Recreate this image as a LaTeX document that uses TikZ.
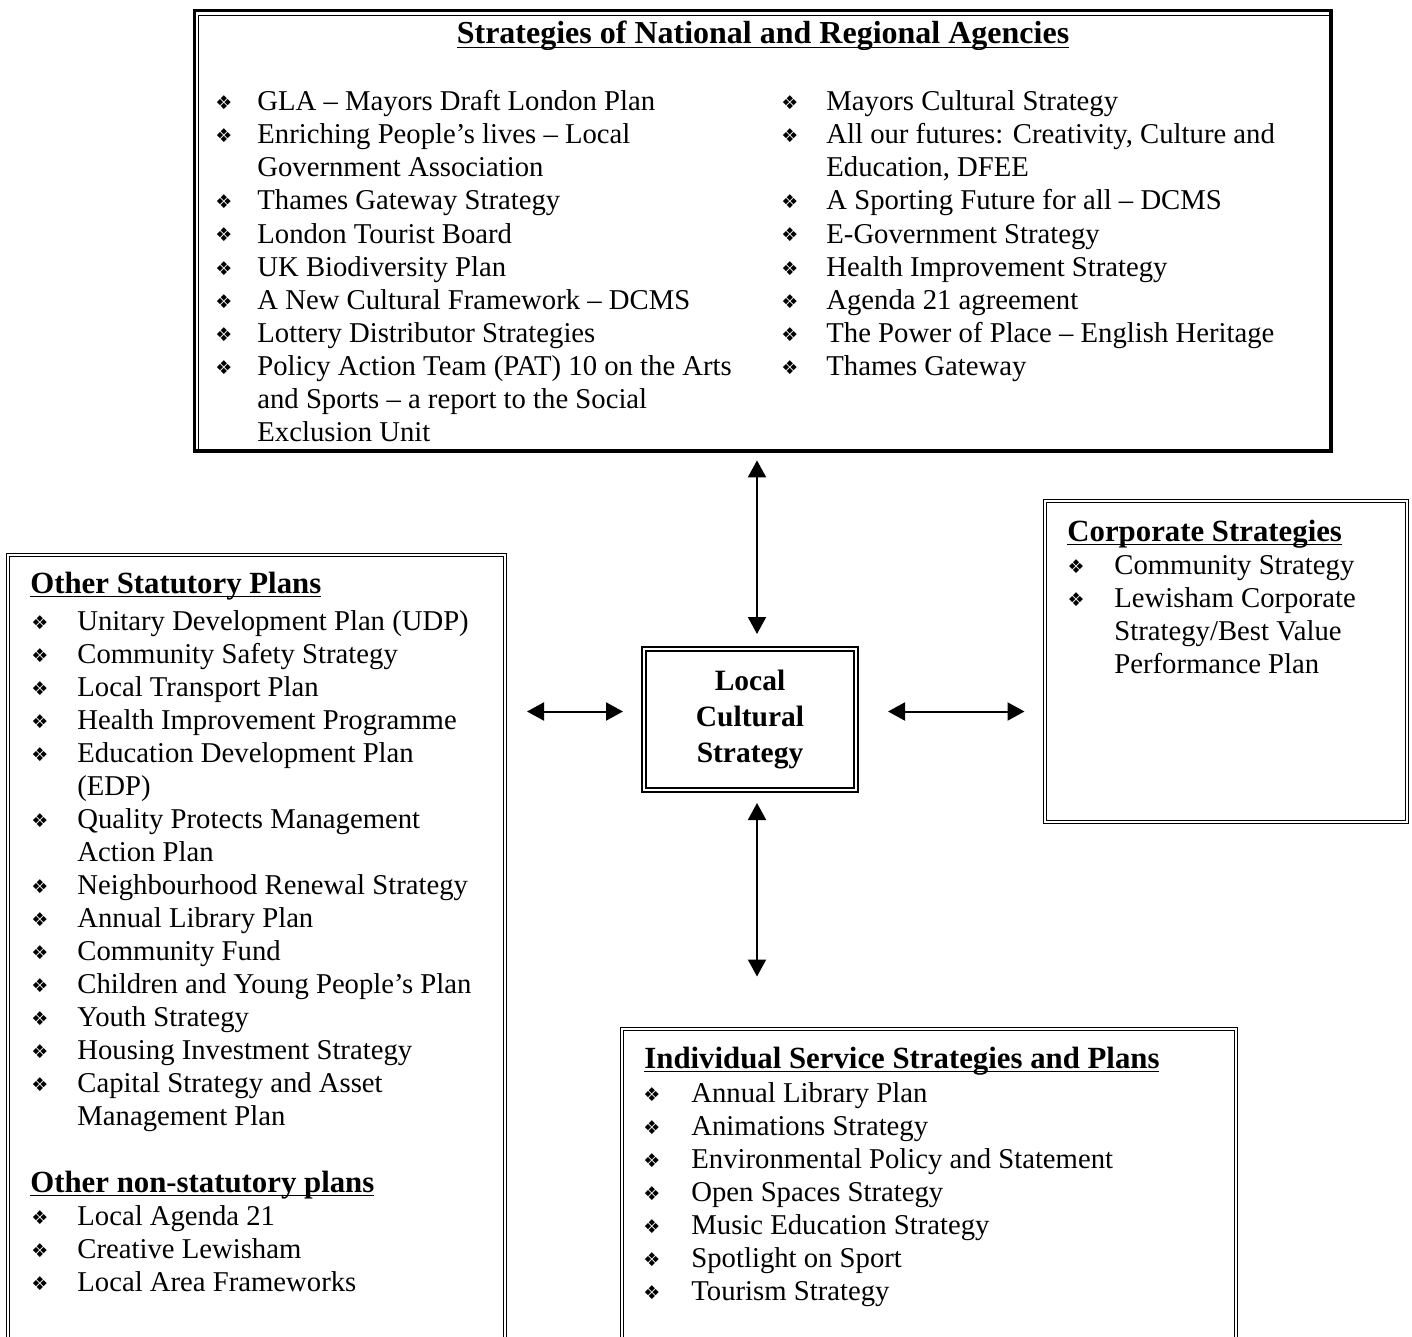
\documentclass[tikz,border=0pt]{standalone}
\usepackage{fontspec}
\setmainfont{Liberation Serif}
\newfontfamily\dejavu{DejaVu Sans}
\usetikzlibrary{fit,arrows.meta}
\newcommand\ulx[1]{\setbox0=\hbox{#1}\rlap{\rule[-2.2pt]{\wd0}{0.9pt}}\box0}
\newcommand\bitem[5]{%
  \node[bul] (#1b) at (#2,#4-1) {❖};
  \node[body] (#1) at (#3,#4) {#5};}
\newcommand\citem[4]{\node[body] (#1) at (#2,#3) {#4};}
\tikzset{
  body/.style={inner sep=0pt, anchor=base west, font=\fontsize{14.35}{16.5}\selectfont},
  bul/.style={inner sep=0pt, anchor=base, font=\dejavu\fontsize{9.5}{10}\selectfont},
  head/.style={inner sep=0pt, anchor=base west, font=\bfseries\fontsize{15.4}{18}\selectfont},
  dbox/.style={draw, double, line width=0.5pt, double distance=1pt, inner sep=0pt},
  cbox/.style={draw, double, line width=1pt, double distance=1pt, inner sep=0pt, align=center,
    font=\bfseries\fontsize{14.75}{18}\selectfont},
  arr/.style={{Triangle[length=8.5pt,width=9pt]}-{Triangle[length=8.5pt,width=9pt]}, line width=1pt}
}
\begin{document}
\begin{tikzpicture}[x=0.5pt,y=-0.5pt]
\useasboundingbox (0,0) rectangle (1412,1337);
% ---------- top box ----------
\node[inner sep=0pt, fit={(194,11) (1331,451)}] (top) {};
\draw[line width=1.5pt] (194,452.5) -- (194,11) -- (1329,11);
\draw[line width=0.75pt] (198.5,449) -- (198.5,15.5) -- (1329,15.5);
\draw[line width=2pt] (1331,9.5) -- (1331,451) -- (192.5,451);
\node[inner sep=0pt, anchor=base, font=\bfseries\fontsize{16}{18}\selectfont] (title) at (763,44)
  {\ulx{Strategies of National and Regional Agencies}};
\bitem{a1}{224}{257}{111}{GLA – Mayors Draft London Plan}
\bitem{a2}{224}{257}{144}{Enriching People’s lives – Local}
\citem{a2c}{257}{177}{Government Association}
\bitem{a3}{224}{257}{210}{Thames Gateway Strategy}
\bitem{a4}{224}{257}{243}{London Tourist Board}
\bitem{a5}{224}{257}{276}{UK Biodiversity Plan}
\bitem{a6}{224}{257}{309}{A New Cultural Framework – DCMS}
\bitem{a7}{224}{257}{342}{Lottery Distributor Strategies}
\bitem{a8}{224}{257}{375}{Policy Action Team (PAT) 10 on the Arts}
\citem{a8c}{257}{408}{and Sports – a report to the Social}
\citem{a8d}{257}{441}{Exclusion Unit}
\bitem{b1}{790}{826}{111}{Mayors Cultural Strategy}
\bitem{b2}{790}{826}{144}{All our futures: Creativity, Culture and}
\citem{b2c}{826}{177}{Education, DFEE}
\bitem{b3}{790}{826}{210}{A Sporting Future for all – DCMS}
\bitem{b4}{790}{826}{243}{E-Government Strategy}
\bitem{b5}{790}{826}{276}{Health Improvement Strategy}
\bitem{b6}{790}{826}{309}{Agenda 21 agreement}
\bitem{b7}{790}{826}{342}{The Power of Place – English Heritage}
\bitem{b8}{790}{826}{375}{Thames Gateway}
% ---------- left box ----------
\node[dbox, fit={(8.3,555) (504.5,1360)}] (left) {};
\node[head] (lh1) at (30,593) {\ulx{Other Statutory Plans}};
\bitem{c1}{40}{77}{630}{Unitary Development Plan (UDP)}
\bitem{c2}{40}{77}{663}{Community Safety Strategy}
\bitem{c3}{40}{77}{696}{Local Transport Plan}
\bitem{c4}{40}{77}{729}{Health Improvement Programme}
\bitem{c5}{40}{77}{762}{Education Development Plan}
\citem{c5c}{77}{795}{(EDP)}
\bitem{c6}{40}{77}{828}{Quality Protects Management}
\citem{c6c}{77}{861}{Action Plan}
\bitem{c7}{40}{77}{894}{Neighbourhood Renewal Strategy}
\bitem{c8}{40}{77}{927}{Annual Library Plan}
\bitem{c9}{40}{77}{960}{Community Fund}
\bitem{c10}{40}{77}{993}{Children and Young People’s Plan}
\bitem{c11}{40}{77}{1026}{Youth Strategy}
\bitem{c12}{40}{77}{1059}{Housing Investment Strategy}
\bitem{c13}{40}{77}{1092}{Capital Strategy and Asset}
\citem{c13c}{77}{1125}{Management Plan}
\node[head] (lh2) at (30,1192) {\ulx{Other non-statutory plans}};
\bitem{d1}{40}{77}{1225}{Local Agenda 21}
\bitem{d2}{40}{77}{1258}{Creative Lewisham}
\bitem{d3}{40}{77}{1291}{Local Area Frameworks}
% ---------- right box ----------
\node[dbox, fit={(1045,501) (1406.5,821.5)}] (right) {};
\node[head] (rh) at (1067,541) {\ulx{Corporate Strategies}};
\bitem{e1}{1076}{1114}{574}{Community Strategy}
\bitem{e2}{1076}{1114}{607}{Lewisham Corporate}
\citem{e2c}{1114}{640}{Strategy/Best Value}
\citem{e2d}{1114}{673}{Performance Plan}
% ---------- bottom box ----------
\node[dbox, fit={(622,1029) (1236,1360)}] (bottom) {};
\node[head] (bh) at (644,1068) {\ulx{Individual Service Strategies and Plans}};
\bitem{f1}{652}{691}{1102}{Annual Library Plan}
\bitem{f2}{652}{691}{1135}{Animations Strategy}
\bitem{f3}{652}{691}{1168}{Environmental Policy and Statement}
\bitem{f4}{652}{691}{1201}{Open Spaces Strategy}
\bitem{f5}{652}{691}{1234}{Music Education Strategy}
\bitem{f6}{652}{691}{1267}{Spotlight on Sport}
\bitem{f7}{652}{691}{1300}{Tourism Strategy}
% ---------- centre ----------
\node[cbox, minimum width=106pt, minimum height=70.5pt] (lcs) at (750,719.5) {Local\\Cultural\\Strategy};
% ---------- arrows ----------
\draw[arr, shorten <=7pt, shorten >=4.5pt] ([xshift=3.5pt]lcs.north) -- ([xshift=3.5pt]lcs.north |- top.south);
\draw[arr, shorten <=6pt, shorten >=26pt] ([xshift=3.5pt]lcs.south) -- ([xshift=3.5pt]lcs.south |- bottom.north);
\draw[arr, shorten <=10pt, shorten >=11pt] ([yshift=4pt]lcs.west) -- ([yshift=4pt]lcs.west -| left.east);
\draw[arr, shorten <=15.5pt, shorten >=10pt] ([yshift=4pt]lcs.east) -- ([yshift=4pt]lcs.east -| right.west);
\end{tikzpicture}
\end{document}
